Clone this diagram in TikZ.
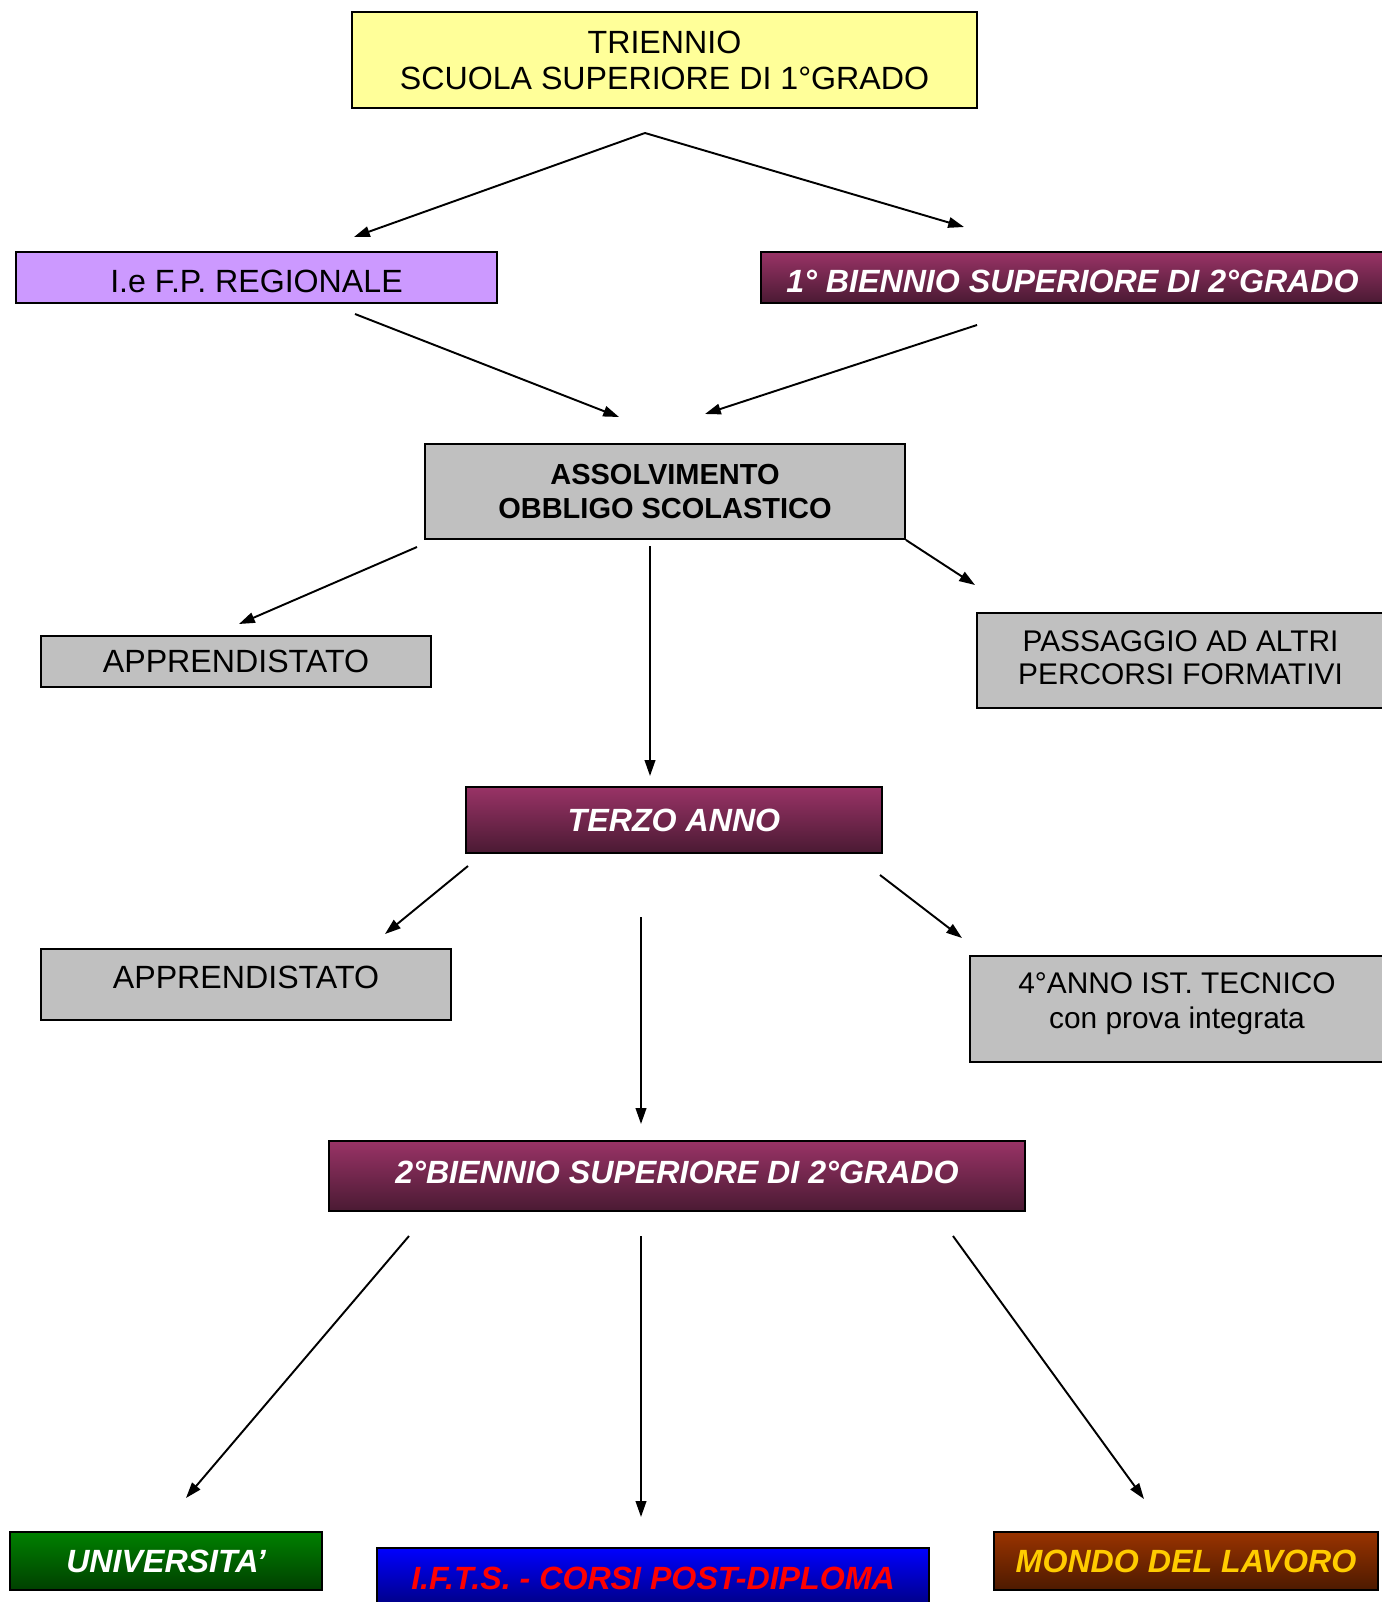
\documentclass[tikz,border=0pt]{standalone}
\usepackage{fontspec}
\setmainfont{Liberation Sans}
\usetikzlibrary{arrows.meta}
\definecolor{giallo}{HTML}{FFFF99}
\definecolor{lilla}{HTML}{CC99FF}
\definecolor{grigio}{HTML}{C0C0C0}
\definecolor{violaT}{HTML}{993366}
\definecolor{violaB}{HTML}{4A1A33}
\definecolor{verdeT}{HTML}{008000}
\definecolor{verdeB}{HTML}{004000}
\definecolor{bluT}{HTML}{0000FF}
\definecolor{bluB}{HTML}{000080}
\definecolor{marroneT}{HTML}{993300}
\definecolor{marroneB}{HTML}{4D1A00}
\definecolor{oro}{HTML}{FFCC00}

\begin{document}
\begin{tikzpicture}[x=0.02cm, y=-0.02cm,
	box/.style={draw, line width=1.1pt, inner sep=0pt, align=center,
		font=\fontsize{18.3}{20.5}\selectfont},
	grigiobox/.style={box, fill=grigio},
	titolo/.style={box, text=white, font=\fontsize{18.3}{21}\selectfont\bfseries\itshape},
	viola/.style={titolo, top color=violaT, bottom color=violaB},
	freccia/.style={line width=1.1pt, -{Triangle[length=9pt,width=6pt]}}]
	\useasboundingbox (0,0) rectangle (1382,1602);
	
	% caselle
	\node[box, fill=giallo, minimum width=12.5cm, minimum height=1.92cm] (triennio) at (664.5,60)
		{TRIENNIO\\SCUOLA SUPERIORE DI 1°GRADO};
	\node[box, fill=lilla, minimum width=9.62cm, minimum height=1.02cm, text height=17.6pt, text depth=0pt] (ifp) at (256.5,277.5)
		{I.e F.P. REGIONALE};
	\node[viola, minimum width=12.46cm, minimum height=1.02cm, text height=17.6pt, text depth=0pt] (biennioA) at (1072.5,277.5)
		{1° BIENNIO SUPERIORE DI 2°GRADO};
	\node[grigiobox, minimum width=9.6cm, minimum height=1.9cm, font=\fontsize{16.5}{19.8}\selectfont\bfseries] (assolv) at (665,491.5)
		{ASSOLVIMENTO\\OBBLIGO SCOLASTICO};
	\node[grigiobox, minimum width=7.8cm, minimum height=1.02cm] (apprA) at (236,661.5)
		{APPRENDISTATO};
	\node[grigiobox, minimum width=8.14cm, minimum height=1.9cm, font=\fontsize{17}{18.5}\selectfont, text depth=3.4pt] (passaggio) at (1180.5,660.5)
		{PASSAGGIO AD ALTRI\\PERCORSI FORMATIVI};
	\node[viola, minimum width=8.32cm, minimum height=1.32cm] (terzo) at (674,820)
		{TERZO ANNO};
	\node[grigiobox, minimum width=8.2cm, minimum height=1.42cm, text height=13pt, text depth=8pt] (apprB) at (246,984.5)
		{APPRENDISTATO};
	\node[grigiobox, minimum width=8.28cm, minimum height=2.12cm, font=\fontsize{17}{19.7}\selectfont, text depth=9.4pt] (quarto) at (1177,1009)
		{4°ANNO IST. TECNICO\\con prova integrata};
	\node[viola, minimum width=13.92cm, minimum height=1.4cm, text height=13pt, text depth=4.6pt] (biennioB) at (677,1176)
		{2°BIENNIO SUPERIORE DI 2°GRADO};
	\node[titolo, top color=verdeT, bottom color=verdeB, minimum width=6.24cm, minimum height=1.16cm] (univ) at (166,1561)
		{UNIVERSITA’};
	\node[titolo, top color=bluT, bottom color=bluB, text=red, minimum width=11.04cm, minimum height=1.2cm] (ifts) at (653,1578)
		{I.F.T.S. - CORSI POST-DIPLOMA};
	\node[titolo, top color=marroneT, bottom color=marroneB, text=oro, minimum width=7.68cm, minimum height=1.16cm] (lavoro) at (1186,1561)
		{MONDO DEL LAVORO};
	
	% estremi delle frecce
	\coordinate (vertice) at (645,133);
	\coordinate (ifpA) at (354,237);
	\coordinate (bienA) at (964,227);
	\coordinate (ifpB) at (355,314);
	\coordinate (bienB) at (977,325);
	\coordinate (assA) at (619,417);
	\coordinate (assB) at (705,414);
	\coordinate (assS) at (417,547);
	\coordinate (assM) at (650,546);
	\coordinate (apprAN) at (239,624);
	\coordinate (terzoN) at (650,776);
	\coordinate (passN) at (975,585);
	\coordinate (terzoS) at (468,866);
	\coordinate (terzoM) at (641,917);
	\coordinate (terzoD) at (880,875);
	\coordinate (apprBN) at (385,934);
	\coordinate (biennioN) at (641,1124);
	\coordinate (quartoN) at (962,938);
	\coordinate (bienS) at (409,1236);
	\coordinate (bienM) at (641,1236);
	\coordinate (bienD) at (953,1236);
	\coordinate (univN) at (186,1498);
	\coordinate (iftsN) at (641,1517);
	\coordinate (lavoroN) at (1144,1499);
	
	% frecce
	\draw[freccia] (vertice) -- (ifpA);
	\draw[freccia] (vertice) -- (bienA);
	\draw[freccia] (ifpB) -- (assA);
	\draw[freccia] (bienB) -- (assB);
	\draw[freccia] (assS) -- (apprAN);
	\draw[freccia] (assM) -- (terzoN);
	\draw[freccia] (assolv.south east) -- (passN);
	\draw[freccia] (terzoS) -- (apprBN);
	\draw[freccia] (terzoM) -- (biennioN);
	\draw[freccia] (terzoD) -- (quartoN);
	\draw[freccia] (bienS) -- (univN);
	\draw[freccia] (bienM) -- (iftsN);
	\draw[freccia] (bienD) -- (lavoroN);
\end{tikzpicture}
\end{document}
